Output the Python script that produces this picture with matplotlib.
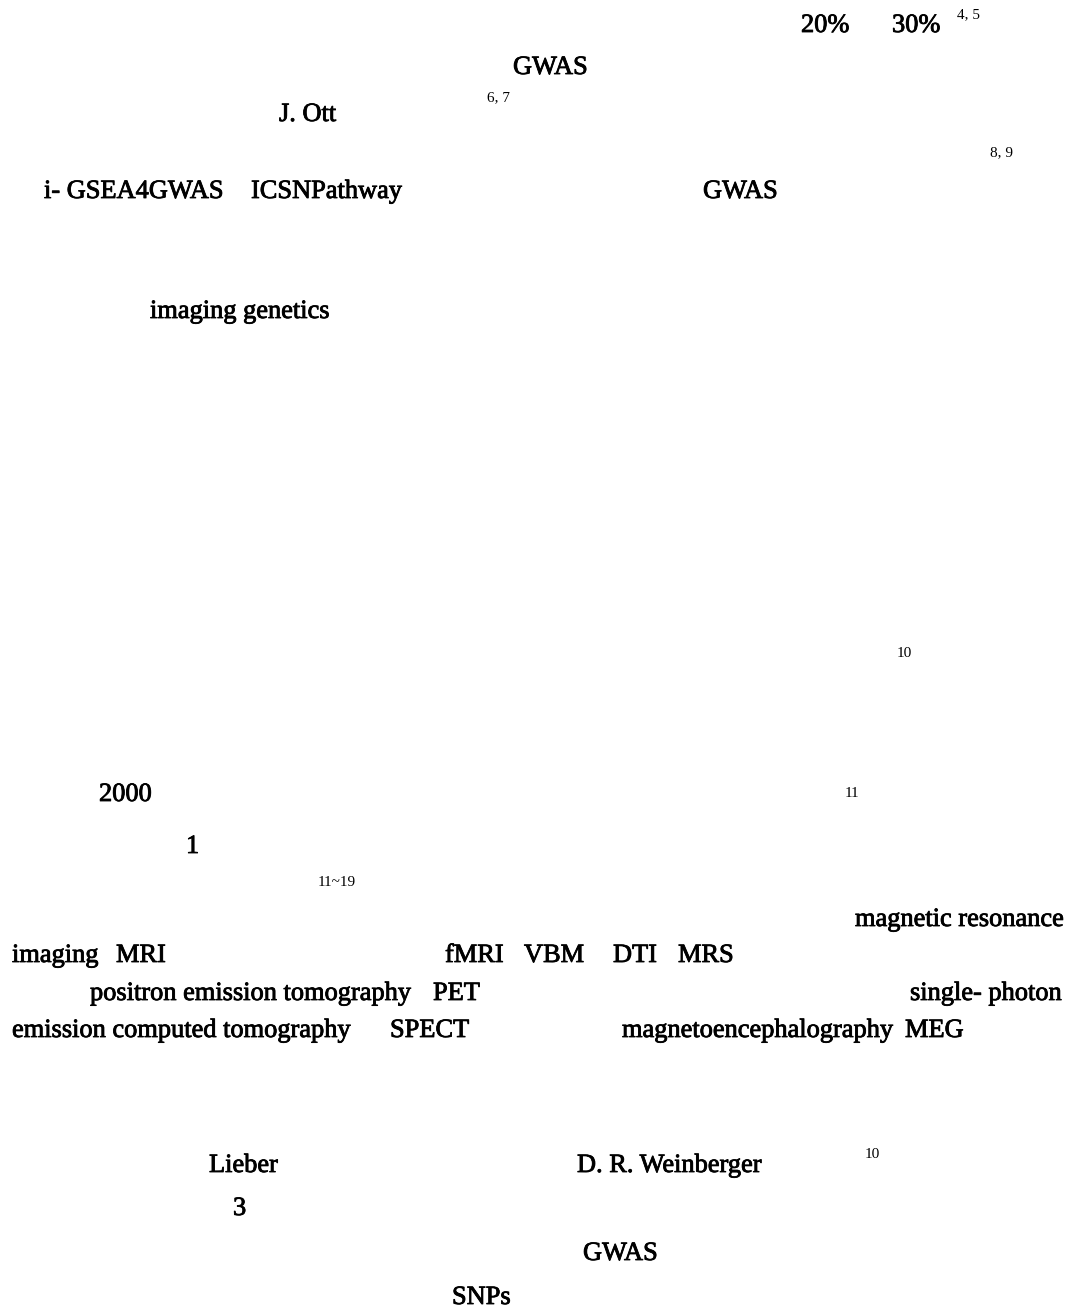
import matplotlib.pyplot as plt
import matplotlib.patheffects as pe

# page size in pixels
W, H = 1070, 1314

# the Latin fragments left on the page (Chinese glyphs are missing)
words = ["20%", "30%", "GWAS", "J. Ott", "i- GSEA4GWAS", "ICSNPathway", "GWAS",
         "imaging genetics", "2000", "1", "magnetic resonance",
         "imaging", "MRI", "fMRI", "VBM", "DTI", "MRS",
         "positron emission tomography", "PET", "single- photon",
         "emission computed tomography", "SPECT", "magnetoencephalography", "MEG",
         "Lieber", "D. R. Weinberger", "3", "GWAS", "SNPs"]
word_x = [801, 892, 513, 279, 44, 251, 703,
          150, 99, 186, 855,
          12, 116, 445, 524, 613, 678,
          90, 433, 910,
          12, 390, 622, 905,
          209, 577, 233, 583, 452]
word_y = [32, 32, 74, 121, 198, 198, 198,
          318, 801, 853, 926,
          962, 962, 962, 962, 962, 962,
          1000, 1000, 1000,
          1037, 1037, 1037, 1037,
          1172, 1172, 1215, 1260, 1304]

# citation superscripts
refs = ["4, 5", "6, 7", "8, 9", "10", "11", "11~19", "10"]
ref_x = [957, 487, 990, 897, 845, 318, 865]
ref_y = [18, 101, 156, 657, 797, 886, 1158]

fig = plt.figure(figsize=(W / 100, H / 100), dpi=100)
ax = fig.add_axes([0, 0, 1, 1])
ax.set_xlim(0, W)
ax.set_ylim(H, 0)
ax.axis("off")

heavy = [pe.withStroke(linewidth=0.6, foreground="black")]

for s, x, y in zip(words, word_x, word_y):
    ax.text(x, y, s, family="Liberation Serif", fontsize=19, va="baseline",
            ha="left", path_effects=heavy)

for s, x, y in zip(refs, ref_x, ref_y):
    ax.text(x, y, s, family="Liberation Serif", fontsize=11, va="baseline",
            ha="left")

fig.savefig("out.png", dpi=100, facecolor="white")
